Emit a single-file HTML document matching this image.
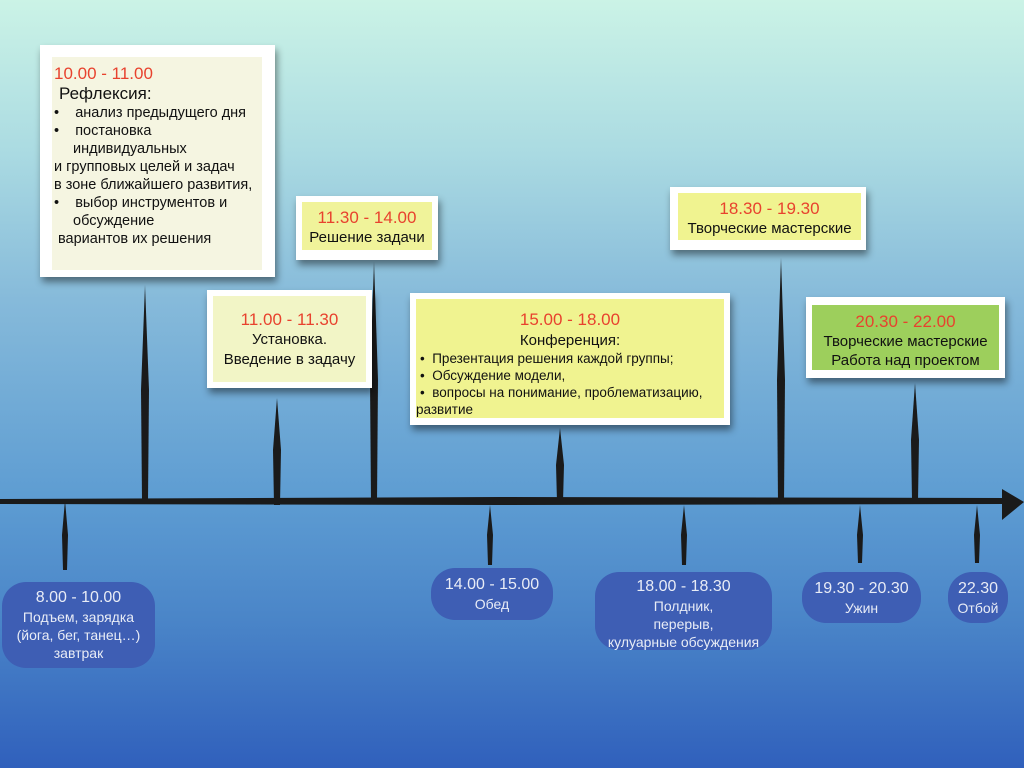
<!DOCTYPE html>
<html><head><meta charset="utf-8"><style>
*{margin:0;padding:0;box-sizing:border-box}
body{width:1024px;height:768px;overflow:hidden;position:relative;font-family:"Liberation Sans","DejaVu Sans",sans-serif;
background:linear-gradient(180deg,#cbf3e6 0px,#abdbe2 150px,#86bada 300px,#5d9cd2 500px,#4a85c8 620px,#3060bc 768px)}
.b{position:absolute;background:#fff;box-shadow:2px 5px 7px rgba(0,0,0,.45)}
.i{position:absolute;left:6px;top:6px;right:6px;bottom:6px;color:#111;font-size:13px}
.r{color:#e8422e}
.c{text-align:center}
.p{position:absolute;background:#3e5eb4;color:#e8ecf6;text-align:center;font-size:14px;line-height:18px;border-radius:24px}
.p .t{font-size:16px;line-height:20px}
svg{position:absolute;left:0;top:0}
</style></head><body>
<svg width="1024" height="768">
<g fill="#1a1a1a">
<polygon points="0,499 500,497 1005,498 1005,504 500,505 0,504"/>
<polygon points="1002,489 1024,502 1002,520"/>
<polygon points="145,285 149,390 148,500 142,500 141,390"/>
<polygon points="277,398 281,450 280,505 274,505 273,450"/>
<polygon points="374,262 378,380 377,502 371,502 370,380"/>
<polygon points="560,428 564,465 563,502 557,502 556,465"/>
<polygon points="781,258 785,380 784,502 778,502 777,380"/>
<polygon points="915,383 919,440 918,500 912,500 911,440"/>
<polygon points="65,500 68,535 67,570 63,570 62,535"/>
<polygon points="490,505 493,535 492,565 488,565 487,535"/>
<polygon points="684,505 687,535 686,565 682,565 681,535"/>
<polygon points="860,505 863,535 862,563 858,563 857,535"/>
<polygon points="977,505 980,535 979,563 975,563 974,535"/>
</g></svg>

<div class="b" style="left:40px;top:45px;width:235px;height:232px">
<div class="i" style="background:#f5f5e1;left:12px;top:12px;right:13px;bottom:7px;padding:6px 0 0 2px;line-height:18px;font-size:14.5px">
<div class="r" style="font-size:17px;line-height:21px">10.00 - 11.00</div>
<div style="font-size:17px;line-height:20px;padding-left:5px">Рефлексия:</div>
<div>•&nbsp;&nbsp;&nbsp;&nbsp;анализ предыдущего дня</div>
<div>•&nbsp;&nbsp;&nbsp;&nbsp;постановка</div>
<div style="padding-left:19px">индивидуальных</div>
<div>и групповых целей и задач</div>
<div>в зоне ближайшего развития,</div>
<div>•&nbsp;&nbsp;&nbsp;&nbsp;выбор инструментов и</div>
<div style="padding-left:19px">обсуждение</div>
<div style="padding-left:4px">вариантов их решения</div>
</div></div>

<div class="b" style="left:207px;top:290px;width:165px;height:98px">
<div class="i c" style="background:#f2f5c6;padding-top:14px;font-size:15px;line-height:20px">
<div class="r" style="font-size:17px">11.00 - 11.30</div>Установка.<br>Введение в задачу</div></div>

<div class="b" style="left:296px;top:196px;width:142px;height:64px">
<div class="i c" style="background:#f0f39a;bottom:10px;padding-top:6px;font-size:15px;line-height:20px">
<div class="r" style="font-size:17px">11.30 - 14.00</div>Решение задачи</div></div>

<div class="b" style="left:410px;top:293px;width:320px;height:132px">
<div class="i" style="background:#f0f390;bottom:7px;padding-top:10px;font-size:13.5px;line-height:17px">
<div class="r c" style="font-size:17px;line-height:22px">15.00 - 18.00</div>
<div class="c" style="font-size:15px;line-height:19px">Конференция:</div>
<div style="padding-left:4px">•&nbsp;&nbsp;Презентация решения каждой группы;</div>
<div style="padding-left:4px">•&nbsp;&nbsp;Обсуждение модели,</div>
<div style="padding-left:4px">•&nbsp;&nbsp;вопросы на понимание, проблематизацию,</div>
<div>развитие</div></div></div>

<div class="b" style="left:670px;top:187px;width:196px;height:63px">
<div class="i c" style="background:#f0f390;left:8px;right:5px;bottom:10px;padding-top:6px;font-size:15px;line-height:20px">
<div class="r" style="font-size:17px">18.30 - 19.30</div>Творческие мастерские</div></div>

<div class="b" style="left:806px;top:297px;width:199px;height:81px">
<div class="i c" style="background:#9dcf5c;top:8px;bottom:8px;padding-top:6px;font-size:15px;line-height:19px">
<div class="r" style="font-size:17px;line-height:21px">20.30 - 22.00</div>Творческие мастерские<br>Работа над проектом</div></div>

<div class="p" style="left:2px;top:582px;width:153px;height:86px;padding-top:6px"><div class="t">8.00 - 10.00</div>Подъем, зарядка<br>(йога, бег, танец…)<br>завтрак</div>
<div class="p" style="left:431px;top:568px;width:122px;height:52px;padding-top:7px"><div class="t">14.00 - 15.00</div>Обед</div>
<div class="p" style="left:595px;top:572px;width:177px;height:78px;padding-top:5px"><div class="t">18.00 - 18.30</div>Полдник,<br>перерыв,<br>кулуарные обсуждения</div>
<div class="p" style="left:802px;top:572px;width:119px;height:51px;padding-top:7px"><div class="t">19.30 - 20.30</div>Ужин</div>
<div class="p" style="left:948px;top:572px;width:60px;height:51px;padding-top:7px"><div class="t">22.30</div>Отбой</div>
</body></html>
